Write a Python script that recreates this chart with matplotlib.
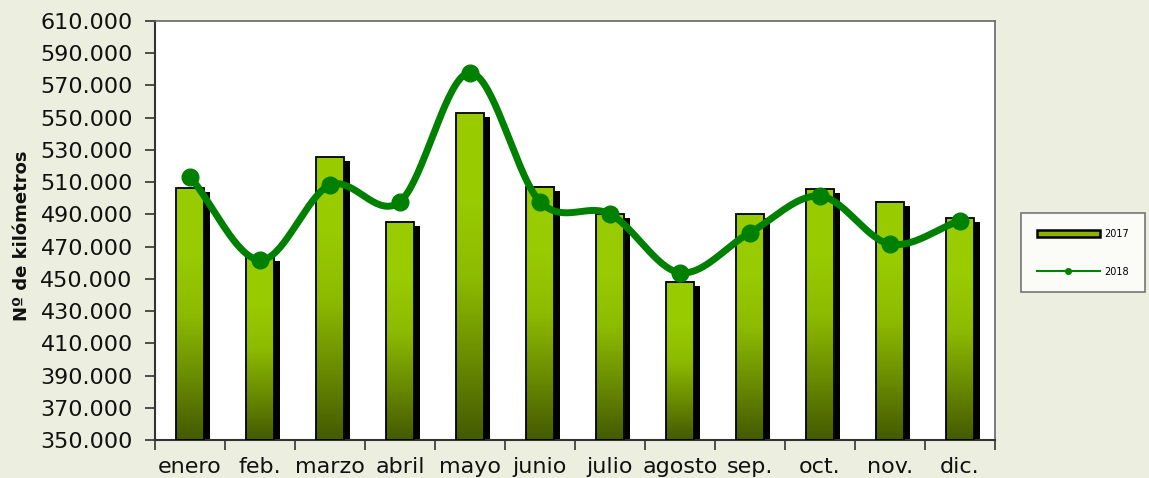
import numpy as np
import matplotlib
matplotlib.use("Agg")
import matplotlib.pyplot as plt
from matplotlib.patches import Rectangle, Patch
from matplotlib.lines import Line2D
from matplotlib.colors import LinearSegmentedColormap
from matplotlib.ticker import FuncFormatter, FixedLocator

# data (km per month)
meses = ["enero", "feb.", "marzo", "abril", "mayo", "junio",
         "julio", "agosto", "sep.", "oct.", "nov.", "dic."]
km_2017 = [506100, 463800, 525500, 485500, 552700, 507200,
           490000, 448200, 490200, 505600, 497900, 487600]
km_2018 = [513400, 461700, 508200, 497900, 577900, 497900,
           490200, 453800, 478700, 501400, 471600, 486100]

bg = "#ECEFDF"
fig = plt.figure(figsize=(11.49, 4.78), dpi=100, facecolor=bg)
ax = fig.add_axes([155 / 1149, 38 / 478, 840 / 1149, 419 / 478])
ax.set_facecolor("white")

ymin, ymax = 350000, 610000

# gradient bars with shadow
cmap = LinearSegmentedColormap.from_list("verde", ["#445A00", "#6A8C00", "#8DBB00", "#99CC00", "#99CC00"])
grad = np.linspace(0, 1, 256).reshape(-1, 1)
w = 0.4
dx = 0.08
dy = 2500
for i, v in enumerate(km_2017):
    x0 = i - w / 2
    ax.add_patch(Rectangle((x0 + dx, ymin), w, v - ymin - dy, facecolor="black",
                           edgecolor="none", zorder=2))
    ax.imshow(grad, extent=[x0, x0 + w, ymin, v], origin="lower", cmap=cmap,
              aspect="auto", zorder=3, interpolation="bilinear")
    ax.add_patch(Rectangle((x0, ymin), w, v - ymin, facecolor="none",
                           edgecolor="black", lw=1.3, zorder=4))
ax.set_xlim(-0.5, 11.5)
ax.set_ylim(ymin, ymax)

# smoothed line (Catmull-Rom through the points)
xs = np.arange(len(km_2018), dtype=float)
ys = np.array(km_2018, dtype=float)
px = np.concatenate([[2 * xs[0] - xs[1]], xs, [2 * xs[-1] - xs[-2]]])
py = np.concatenate([[2 * ys[0] - ys[1]], ys, [2 * ys[-1] - ys[-2]]])
cx, cy = [], []
t = np.linspace(0, 1, 40)
for k in range(1, len(px) - 2):
    for arr, out in ((px, cx), (py, cy)):
        p0, p1, p2, p3 = arr[k - 1], arr[k], arr[k + 1], arr[k + 2]
        out.extend(0.5 * (2 * p1 + (-p0 + p2) * t + (2 * p0 - 5 * p1 + 4 * p2 - p3) * t ** 2
                          + (-p0 + 3 * p1 - 3 * p2 + p3) * t ** 3))
ax.plot(cx, cy, color="#008000", lw=5, zorder=5, solid_capstyle="round")
ax.plot(xs, ys, "o", color="#008000", ms=12, zorder=6)

# axes styling
for s in ["left", "bottom"]:
    ax.spines[s].set_color("#333333")
    ax.spines[s].set_linewidth(1.5)
for s in ["top", "right"]:
    ax.spines[s].set_color("#666666")
    ax.spines[s].set_linewidth(1.2)

ax.set_yticks(np.arange(ymin, ymax + 1, 20000))
ax.yaxis.set_major_formatter(FuncFormatter(lambda v, p: f"{v:,.0f}".replace(",", ".")))
ax.tick_params(axis="y", direction="out", length=7, width=1.2, color="#333333",
               labelsize=16, pad=9, labelcolor="#111111")

ax.set_xticks(range(len(meses)))
ax.set_xticklabels(meses)
ax.xaxis.set_minor_locator(FixedLocator(np.arange(-0.5, 12, 1)))
ax.tick_params(axis="x", which="major", length=0, labelsize=16, pad=12, labelcolor="#111111")
ax.tick_params(axis="x", which="minor", direction="out", length=7, width=1.2, color="#333333")

fig.text(22 / 1149, 1 - 236 / 478, "Nº de kilómetros", rotation=90, fontsize=13,
         fontweight="bold", ha="center", va="center", color="#111111")

handles = [Patch(facecolor="#8FB000", edgecolor="black", lw=1.8),
           Line2D([0], [0], color="#008000", lw=1.5, marker="o", ms=4)]
leg = fig.legend(handles, ["2017", "2018"], loc="upper left",
                 bbox_to_anchor=(1021 / 1149, 1 - 213 / 478), fontsize=7,
                 frameon=True, fancybox=False, borderpad=1.6, labelspacing=2.9,
                 handlelength=6.5, handletextpad=0.5, borderaxespad=0)
leg.get_frame().set_edgecolor("#555555")
leg.get_frame().set_linewidth(1.2)
leg.get_frame().set_facecolor("white")

fig.savefig("out.png", dpi=100, facecolor=bg)
